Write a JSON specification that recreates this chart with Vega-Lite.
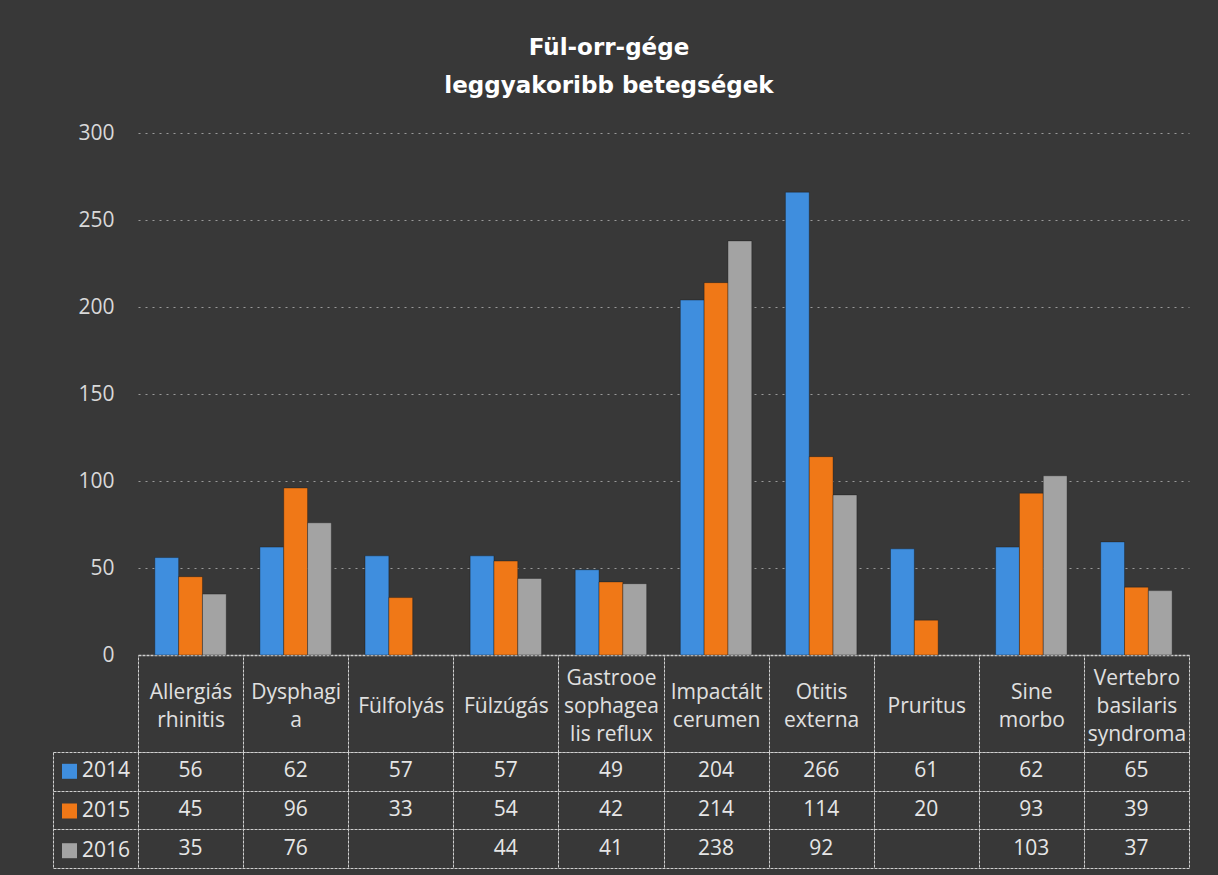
{
  "$schema": "https://vega.github.io/schema/vega-lite/v6.json",
  "background": "#383838",
  "padding": {"left": 52, "top": 37, "right": 30, "bottom": 6},
  "title": {
    "text": ["Fül-orr-gége", "leggyakoribb betegségek"],
    "font": "DejaVu Sans",
    "fontSize": 23,
    "fontWeight": "bold",
    "color": "#ffffff",
    "lineHeight": 38,
    "anchor": "middle",
    "offset": 24,
    "dx": -12
  },
  "data": {
    "values": [
      {"cat": "Allergiás rhinitis", "year": "2014", "value": 56},
      {"cat": "Allergiás rhinitis", "year": "2015", "value": 45},
      {"cat": "Allergiás rhinitis", "year": "2016", "value": 35},
      {"cat": "Dysphagia", "year": "2014", "value": 62},
      {"cat": "Dysphagia", "year": "2015", "value": 96},
      {"cat": "Dysphagia", "year": "2016", "value": 76},
      {"cat": "Fülfolyás", "year": "2014", "value": 57},
      {"cat": "Fülfolyás", "year": "2015", "value": 33},
      {"cat": "Fülzúgás", "year": "2014", "value": 57},
      {"cat": "Fülzúgás", "year": "2015", "value": 54},
      {"cat": "Fülzúgás", "year": "2016", "value": 44},
      {"cat": "Gastrooesophagealis reflux", "year": "2014", "value": 49},
      {"cat": "Gastrooesophagealis reflux", "year": "2015", "value": 42},
      {"cat": "Gastrooesophagealis reflux", "year": "2016", "value": 41},
      {"cat": "Impactált cerumen", "year": "2014", "value": 204},
      {"cat": "Impactált cerumen", "year": "2015", "value": 214},
      {"cat": "Impactált cerumen", "year": "2016", "value": 238},
      {"cat": "Otitis externa", "year": "2014", "value": 266},
      {"cat": "Otitis externa", "year": "2015", "value": 114},
      {"cat": "Otitis externa", "year": "2016", "value": 92},
      {"cat": "Pruritus", "year": "2014", "value": 61},
      {"cat": "Pruritus", "year": "2015", "value": 20},
      {"cat": "Sine morbo", "year": "2014", "value": 62},
      {"cat": "Sine morbo", "year": "2015", "value": 93},
      {"cat": "Sine morbo", "year": "2016", "value": 103},
      {"cat": "Vertebrobasilaris syndroma", "year": "2014", "value": 65},
      {"cat": "Vertebrobasilaris syndroma", "year": "2015", "value": 39},
      {"cat": "Vertebrobasilaris syndroma", "year": "2016", "value": 37}
    ]
  },
  "bounds": "flush",
  "spacing": 97,
  "resolve": {"scale": {"x": "independent"}, "legend": {"color": "independent"}},
  "vconcat": [
    {
      "width": 1051,
      "height": 522,
      "mark": {"type": "bar", "stroke": "#111111", "strokeOpacity": 0.35, "strokeWidth": 1},
      "encoding": {
        "x": {
          "field": "cat",
          "type": "nominal",
          "scale": {
            "domain": ["Allergiás rhinitis", "Dysphagia", "Fülfolyás", "Fülzúgás", "Gastrooesophagealis reflux", "Impactált cerumen", "Otitis externa", "Pruritus", "Sine morbo", "Vertebrobasilaris syndroma"],
            "paddingInner": 0.32,
            "paddingOuter": 0.16
          },
          "axis": null
        },
        "xOffset": {"field": "year", "type": "nominal", "scale": {"domain": ["2014", "2015", "2016"]}},
        "y": {
          "field": "value",
          "type": "quantitative",
          "scale": {"domain": [0, 300], "nice": false},
          "axis": {
            "values": [0, 50, 100, 150, 200, 250, 300],
            "title": null,
            "domain": false,
            "ticks": false,
            "labelPadding": 24,
            "labelFont": "Open Sans",
            "labelFontSize": 21,
            "labelColor": "#d9d9d9",
            "grid": true,
            "gridColor": {"condition": {"test": "datum.value == 0", "value": "#d0d0d0"}, "value": "#9a9a9a"},
            "gridDash": {"condition": {"test": "datum.value == 0", "value": [3, 1]}, "value": [2, 5]},
            "gridWidth": {"condition": {"test": "datum.value == 0", "value": 1.5}, "value": 1}
          }
        },
        "color": {
          "field": "year",
          "type": "nominal",
          "scale": {"domain": ["2014", "2015", "2016"], "range": ["#3f8ede", "#f07817", "#a3a3a3"]},
          "legend": null
        }
      }
    },
    {
      "width": 1051,
      "height": 116,
      "layer": [
        {
          "mark": {"type": "square", "opacity": 0, "size": 10},
          "encoding": {
            "x": {
              "field": "cat",
              "type": "nominal",
              "scale": {
                "domain": ["Allergiás rhinitis", "Dysphagia", "Fülfolyás", "Fülzúgás", "Gastrooesophagealis reflux", "Impactált cerumen", "Otitis externa", "Pruritus", "Sine morbo", "Vertebrobasilaris syndroma"],
                "paddingInner": 0,
                "paddingOuter": 0
              },
              "axis": {
                "orient": "top",
                "title": null,
                "labelAngle": 0,
                "labelOverlap": false,
                "labelFont": "Open Sans",
                "labelFontSize": 21,
                "labelColor": "#e0e0e0",
                "labelLineHeight": 28,
                "labelBaseline": "middle",
                "labelPadding": {
                  "condition": [
                    {"test": "datum.value == 'Gastrooesophagealis reflux' || datum.value == 'Vertebrobasilaris syndroma'", "value": -23},
                    {"test": "datum.value == 'Fülfolyás' || datum.value == 'Fülzúgás' || datum.value == 'Pruritus'", "value": -51}
                  ],
                  "value": -37
                },
                "labelExpr": "!isString(datum.value) ? '' : datum.value == 'Dysphagia' ? ['Dysphagi', 'a'] : datum.value == 'Gastrooesophagealis reflux' ? ['Gastrooe', 'sophagea', 'lis reflux'] : datum.value == 'Vertebrobasilaris syndroma' ? ['Vertebro', 'basilaris', 'syndroma'] : split(datum.value, ' ')",
                "tickBand": "extent",
                "tickSize": 97,
                "tickColor": "#cfcfcf",
                "tickDash": [3, 1],
                "tickWidth": 1,
                "domain": true,
                "domainColor": "#cfcfcf",
                "domainDash": [3, 1],
                "grid": true,
                "gridColor": "#cfcfcf",
                "gridDash": [3, 1],
                "gridWidth": 1
              }
            },
            "y": {
              "field": "year",
              "type": "nominal",
              "scale": {"domain": ["2014", "2015", "2016"], "paddingInner": 0, "paddingOuter": 0},
              "axis": {
                "title": null,
                "labels": false,
                "offset": 85,
                "domain": true,
                "domainColor": "#cfcfcf",
                "domainDash": [3, 1],
                "tickBand": "extent",
                "tickSize": -85,
                "tickColor": "#cfcfcf",
                "tickDash": [3, 1],
                "grid": true,
                "gridColor": "#cfcfcf",
                "gridDash": [3, 1],
                "gridWidth": 1
              }
            },
            "color": {
              "field": "year",
              "type": "nominal",
              "scale": {"domain": ["2014", "2015", "2016"], "range": ["#3f8ede", "#f07817", "#a3a3a3"]},
              "legend": {
                "orient": "none",
                "legendX": -79,
                "legendY": 8.8,
                "title": null,
                "symbolType": "square",
                "symbolSize": 225,
                "symbolStrokeWidth": 0,
                "symbolOpacity": 1,
                "labelFont": "Open Sans",
                "labelFontSize": 21,
                "labelColor": "#e6e6e6",
                "labelOffset": 2,
                "padding": 0,
                "rowPadding": 17.7
              }
            }
          }
        },
        {
          "mark": {"type": "text", "font": "Open Sans", "fontSize": 21, "color": "#e6e6e6", "baseline": "middle"},
          "encoding": {
            "x": {"field": "cat", "type": "nominal"},
            "y": {"field": "year", "type": "nominal"},
            "text": {"field": "value", "type": "quantitative"}
          }
        }
      ]
    }
  ],
  "config": {
    "view": {"stroke": null}
  }
}
